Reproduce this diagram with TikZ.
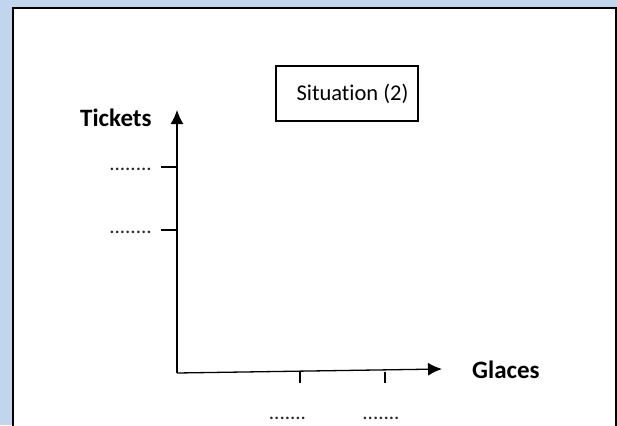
\documentclass[tikz,border=0pt]{standalone}
\usepackage{fontspec}
\setmainfont[Ligatures=NoCommon]{Carlito}
\usetikzlibrary{positioning, arrows.meta}
\definecolor{panelblue}{RGB}{193,214,237}
\tikzset{
  axis/.style={line width=1.3pt, -{Latex[length=14pt,width=13pt]}},
  tick/.style={line width=1.3pt},
  axislabel/.style={font=\fontsize{25}{30}\selectfont\bfseries, inner sep=0pt, anchor=base west},
  dotlabel/.style={font=\fontsize{21}{24}\selectfont, text=black!85, inner sep=0pt, anchor=base},
  titlebox/.style={draw, line width=1.2pt, minimum width=142pt, minimum height=55pt,
    font=\fontsize{22.5}{26}\selectfont, inner sep=0pt}
}
\begin{document}
\begin{tikzpicture}[x=1pt, y=-1pt]
\useasboundingbox (0,0) rectangle (617,425);
\clip (0,0) rectangle (617,425);
\fill [panelblue] (0,0) rectangle (617,425);
\draw [line width=2pt, fill=white] (13,8) rectangle (615.5,440);
\draw [line width=1pt] (616.5,8) -- (616.5,425);
% axes
\coordinate (O) at (177,373);
\coordinate (ytip) at (177,110);
\coordinate (xtip) at (442,369);
\draw [axis] (O) -- (ytip);
\draw [axis] (O) -- (xtip);
% ticks
\foreach \y in {167, 230} \draw [tick, shift={(177,\y)}] (-16,0) -- (0,0);
\foreach \x in {300, 385} \draw [tick, shift={(\x,371.5)}] (0,0) -- (0,11);
% labels
\node [axislabel] (tickets) at (80,126) {Tickets};
\node [axislabel] (glaces) at (472,378) {Glaces};
\node [dotlabel] (yone) at (130.5,170) {........};
\node [dotlabel] (ytwo) at (130.5,233) {........};
\node [dotlabel] (xone) at (287.5,419) {.......};
\node [dotlabel] (xtwo) at (381,419) {.......};
\node [titlebox] (situation) at (347,93.5) {\hspace*{11pt}Situation (2)};
\end{tikzpicture}
\end{document}
